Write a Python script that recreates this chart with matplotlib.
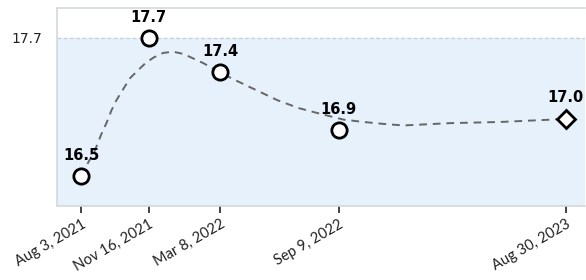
import matplotlib
matplotlib.use("Agg")
import matplotlib.pyplot as plt
import matplotlib.dates as mdates
import numpy as np
import pandas as pd

dates = ["2021-08-03", "2021-11-16", "2022-03-08", "2022-09-09", "2023-08-30"]
tick_labels = ["Aug 3, 2021", "Nov 16, 2021", "Mar 8, 2022", "Sep 9, 2022", "Aug 30, 2023"]
values = [16.5, 17.7, 17.4, 16.9, 17.0]
markers = ["o", "o", "o", "o", "D"]
ref_value = 17.7

# smoothed trend line (days after first date, value)
trend_days = [0, 9, 21, 31, 40, 47, 55, 66, 76, 87, 100, 113, 128, 144, 160,
              191, 217, 238, 272, 306, 340, 374, 410, 441, 478, 504, 577, 655,
              733, 757]
trend_values = [16.50, 16.60, 16.72, 16.86, 16.97, 17.07, 17.16, 17.26, 17.35,
                17.41, 17.48, 17.53, 17.57, 17.58, 17.56, 17.48, 17.40, 17.34,
                17.25, 17.16, 17.09, 17.04, 16.99, 16.97, 16.95, 16.94, 16.96,
                16.97, 16.99, 17.00]

d = pd.to_datetime(dates)
xnum = mdates.date2num(d)
trend_x = mdates.date2num(d[0] + pd.to_timedelta(trend_days, unit="D"))

fig = plt.figure(figsize=(5.86, 2.8), dpi=100)
ax = fig.add_axes([57/586, 1-206/280, (585-57)/586, (206-8)/280])

ymin, ymax = 16.24, 17.96
ax.set_ylim(ymin, ymax)
ax.set_xlim(xnum[0] - 38, xnum[-1] + 30)

ax.axhspan(ymin, ref_value, color="#e6f1fb", zorder=0)
ax.axhline(ref_value, color="#c8d0d4", lw=0.9, ls=(0, (3, 2)), zorder=1)

ax.plot(trend_x, trend_values, color="#666666", lw=1.4,
        ls=(0, (4, 3)), zorder=2, solid_joinstyle="round",
        dash_joinstyle="round")

for x, v, m in zip(xnum, values, markers):
    ax.plot(x, v, marker=m, ms=11 if m == "o" else 9.5, mfc="white", mec="black",
            mew=2, zorder=4, ls="none")
    ax.annotate(f"{v:.1f}", (x, v), xytext=(0, 9.5), textcoords="offset points",
                ha="center", va="bottom", fontsize=10.5, fontweight="bold",
                family="DejaVu Sans", zorder=5)

for s in ["left", "bottom", "top"]:
    ax.spines[s].set_color("#d3dadd")
    ax.spines[s].set_linewidth(1.2)
ax.spines["right"].set_visible(False)

ax.set_yticks([ref_value])
ax.set_yticklabels(["17.7"], fontsize=10, color="#222222", family="DejaVu Sans")
ax.tick_params(axis="y", length=0, pad=11)

ax.set_xticks(xnum)
ax.set_xticklabels(tick_labels, rotation=30, ha="right", rotation_mode="anchor",
                   fontsize=10.5, family="Lato", color="#222222")
ax.tick_params(axis="x", length=5, width=1.2, color="#222222", pad=3)

fig.savefig("out.png", dpi=100)
